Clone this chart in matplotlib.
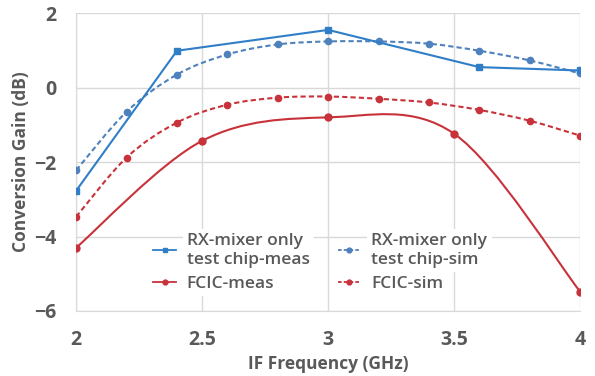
import matplotlib
matplotlib.use("Agg")
import matplotlib.pyplot as plt
import numpy as np
from matplotlib.path import Path
from matplotlib.patches import PathPatch

plt.rcParams['font.family'] = ['Open Sans', 'DejaVu Sans']

# Data
freq_meas_rx = [2.0, 2.4, 3.0, 3.6, 4.0]
gain_meas_rx = [-2.77, 0.99, 1.55, 0.55, 0.46]

freq_sim = [2.0, 2.2, 2.4, 2.6, 2.8, 3.0, 3.2, 3.4, 3.6, 3.8, 4.0]
gain_sim_rx = [-2.22, -0.65, 0.35, 0.89, 1.16, 1.24, 1.24, 1.18, 0.99, 0.73, 0.38]
gain_sim_fcic = [-3.47, -1.88, -0.94, -0.46, -0.27, -0.24, -0.30, -0.40, -0.60, -0.89, -1.29]

freq_meas_fcic = [2.0, 2.5, 3.0, 3.5, 4.0]
gain_meas_fcic = [-4.30, -1.43, -0.80, -1.24, -5.48]

labels = ["RX-mixer only\ntest chip-meas", "FCIC-meas",
          "RX-mixer only\ntest chip-sim", "FCIC-sim"]
xticks = [2, 2.5, 3, 3.5, 4]
xtick_labels = ["2", "2.5", "3", "3.5", "4"]
yticks = [-6, -4, -2, 0, 2]

blue_meas = "#2F7EC7"
blue_sim = "#4F81BD"
red = "#C8323A"
gray_txt = "#595959"


def smooth_path(xs, ys):
    """Catmull-Rom style smooth bezier path (like Excel smoothed line)."""
    pts = np.column_stack([xs, ys])
    n = len(pts)
    verts = [pts[0]]
    codes = [Path.MOVETO]
    for i in range(n - 1):
        p0 = pts[i - 1] if i > 0 else pts[i]
        p1 = pts[i]
        p2 = pts[i + 1]
        p3 = pts[i + 2] if i + 2 < n else pts[i + 1]
        c1 = p1 + (p2 - p0) / 6.0
        c2 = p2 - (p3 - p1) / 6.0
        verts += [c1, c2, p2]
        codes += [Path.CURVE4] * 3
    return Path(verts, codes)


fig = plt.figure(figsize=(5.95, 3.76), dpi=100)
ax = fig.add_axes([0.128, 0.173, 0.847, 0.792])

dash = (0, (2.5, 1.5))
# FCIC-meas smooth curve
ax.add_patch(PathPatch(smooth_path(freq_meas_fcic, gain_meas_fcic), fill=False,
                       edgecolor=red, lw=1.5, zorder=3))
ax.plot(freq_meas_fcic, gain_meas_fcic, ls='none', marker='o', ms=5,
        color=red, zorder=4)
# FCIC-sim
ax.add_patch(PathPatch(smooth_path(freq_sim, gain_sim_fcic), fill=False,
                       edgecolor=red, lw=1.5, ls=dash, zorder=3))
ax.plot(freq_sim, gain_sim_fcic, ls='none', marker='o', ms=4.5,
        color=red, zorder=4)
# RX sim
ax.add_patch(PathPatch(smooth_path(freq_sim, gain_sim_rx), fill=False,
                       edgecolor=blue_sim, lw=1.5, ls=dash, zorder=3))
ax.plot(freq_sim, gain_sim_rx, ls='none', marker='o', ms=4.5,
        color=blue_sim, zorder=4)
# RX meas
ax.plot(freq_meas_rx, gain_meas_rx, ls='-', lw=1.5, marker='s', ms=5,
        color=blue_meas, zorder=5)

# legend proxies
h_rx_meas, = ax.plot([], [], ls='-', lw=1.3, marker='s', ms=3.5, color=blue_meas)
h_fcic_meas, = ax.plot([], [], ls='-', lw=1.3, marker='o', ms=3.5, color=red)
h_rx_sim, = ax.plot([], [], ls=(0, (2, 1.2)), lw=1.3, marker='o', ms=3.5, color=blue_sim)
h_fcic_sim, = ax.plot([], [], ls=(0, (2, 1.2)), lw=1.3, marker='o', ms=3.5, color=red)

leg = ax.legend([h_rx_meas, h_fcic_meas, h_rx_sim, h_fcic_sim], labels,
                ncol=2, loc='upper left', bbox_to_anchor=(0.135, 0.292),
                frameon=False, handlelength=1.35, handletextpad=0.6,
                columnspacing=1.6, labelspacing=0.45, borderpad=0.0,
                prop={'size': 12.5, 'weight': 'semibold'})
for t in leg.get_texts():
    t.set_color(gray_txt)
    t.set_linespacing(1.3)
    t.set_bbox(dict(facecolor='white', edgecolor='none', pad=3))
leg.set_zorder(6)

ax.set_xlim(2, 4)
ax.set_ylim(-6, 2)
ax.set_xticks(xticks)
ax.set_xticklabels(xtick_labels)
ax.set_yticks(yticks)
ax.grid(True, color='#D9D9D9', lw=1)
ax.set_axisbelow(True)
for s in ['top', 'right']:
    ax.spines[s].set_visible(False)
for s in ['left', 'bottom']:
    ax.spines[s].set_color('#D9D9D9')
ax.tick_params(axis='x', length=0, pad=14, labelsize=14, labelcolor=gray_txt)
ax.tick_params(axis='y', length=0, pad=14, labelsize=14, labelcolor=gray_txt)
for lab in ax.get_xticklabels() + ax.get_yticklabels():
    lab.set_fontweight('bold')

ax.set_xlabel("IF Frequency (GHz)", fontsize=12.5, fontweight='bold',
              color=gray_txt, labelpad=3)
ax.set_ylabel("Conversion Gain (dB)", fontsize=12.5, fontweight='bold',
              color=gray_txt, labelpad=3)

fig.savefig("out.png", dpi=100)
